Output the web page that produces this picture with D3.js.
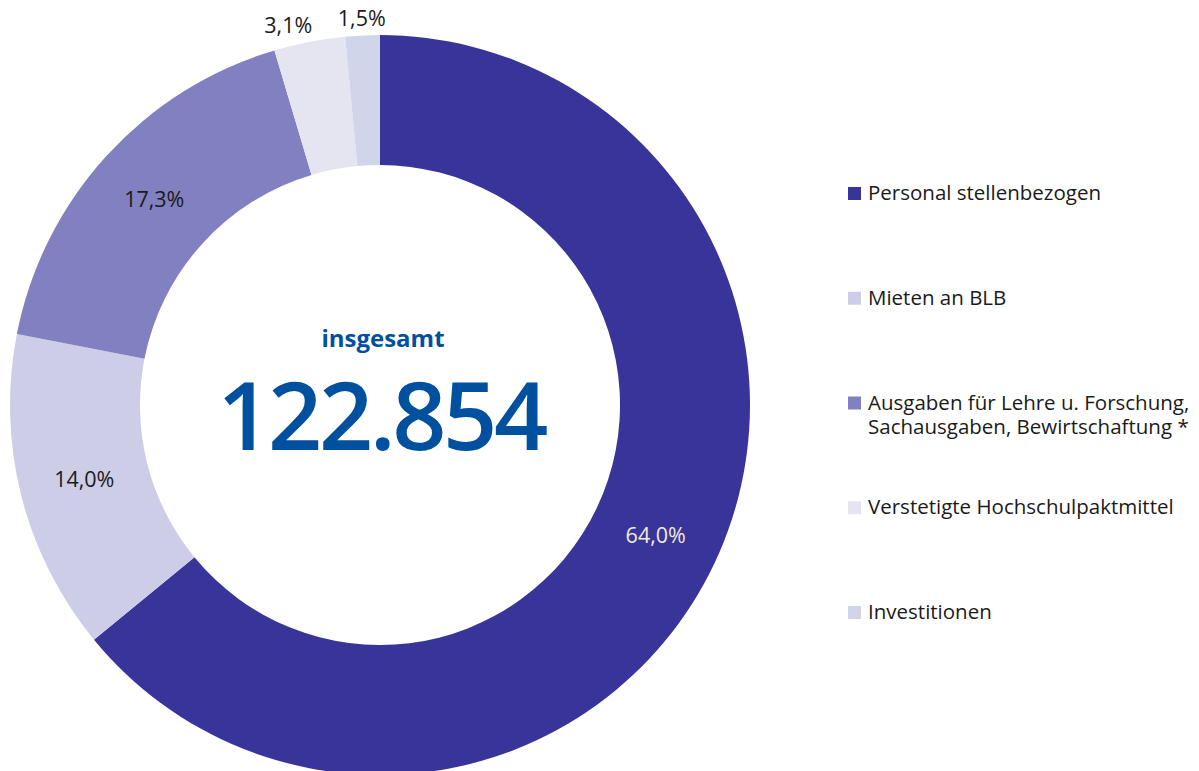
<!DOCTYPE html>
<html>
<head>
<meta charset="utf-8">
<script src="https://cdn.jsdelivr.net/npm/d3@7"></script>
<style>
  body { margin: 0; background: #fff; }
  svg { display: block; font-family: "Open Sans", "Noto Sans", sans-serif; }
</style>
</head>
<body>
<div id="chart"></div>
<script>
// Anteile in Prozent, im Uhrzeigersinn ab 12 Uhr
var categories = [
  ["Personal stellenbezogen"],
  ["Mieten an BLB"],
  ["Ausgaben für Lehre u. Forschung,", "Sachausgaben, Bewirtschaftung *"],
  ["Verstetigte Hochschulpaktmittel"],
  ["Investitionen"]
];
var values = [64.0, 14.0, 17.3, 3.1, 1.5];
var valueLabels = ["64,0%", "14,0%", "17,3%", "3,1%", "1,5%"];
var colors = ["#39349a", "#cdcde8", "#8180c0", "#e5e5f2", "#d1d5e9"];
var totalLabel = "insgesamt";
var totalValue = "122.854";

var width = 1199, height = 771;
var cx = 380, cy = 405, rOuter = 370, rInner = 240;

var svg = d3.select("#chart").append("svg")
  .attr("width", width)
  .attr("height", height);

var data = values.map(function(v, i) {
  return { value: v, label: valueLabels[i], color: colors[i], name: categories[i] };
});

var pie = d3.pie()
  .sort(null)
  .value(function(d) { return d.value; });

var arc = d3.arc().innerRadius(rInner).outerRadius(rOuter);
var labelArc = d3.arc().innerRadius(305).outerRadius(305);
var outerArc = d3.arc().innerRadius(387).outerRadius(387);

var arcs = pie(data);
var g = svg.append("g").attr("transform", "translate(" + cx + "," + cy + ")");

g.selectAll("path.slice").data(arcs).enter()
  .append("path")
  .classed("slice", true)
  .attr("d", arc)
  .attr("fill", function(d) { return d.data.color; });

// Beschriftung: grosse Segmente im Ring, kleine ausserhalb
g.selectAll("text.pct").data(arcs).enter()
  .append("text")
  .classed("pct", true)
  .attr("transform", function(d) {
    var small = d.data.value < 5;
    var p = small ? outerArc.centroid(d) : labelArc.centroid(d);
    if (small && d.index === 3) { p[0] += 6; }
    return "translate(" + p[0] + "," + p[1] + ")";
  })
  .attr("text-anchor", function(d) { return d.index === 3 ? "end" : "middle"; })
  .attr("dy", "0.35em")
  .attr("font-size", 21.5)
  .attr("fill", function(d) { return d.index === 0 ? "#f3ead8" : "#1a1a1a"; })
  .text(function(d) { return d.data.label; });

// Mitte
g.append("text")
  .attr("x", 3)
  .attr("y", -58)
  .attr("text-anchor", "middle")
  .attr("font-size", 24)
  .attr("font-weight", "bold")
  .attr("fill", "#0050a0")
  .text(totalLabel);

g.append("text")
  .attr("x", 1)
  .attr("y", 45)
  .attr("text-anchor", "middle")
  .attr("font-size", 95)
  .attr("font-weight", 600)
  .attr("letter-spacing", -3.5)
  .attr("fill", "#0050a0")
  .text(totalValue);

// Legende
var ly = d3.scalePoint()
  .domain(d3.range(categories.length))
  .range([193, 612]);

var legend = svg.append("g").classed("legend", true);
var item = legend.selectAll("g.item").data(data).enter()
  .append("g")
  .classed("item", true)
  .attr("transform", function(d, i) { return "translate(848," + ly(i) + ")"; });

item.append("rect")
  .attr("x", 0)
  .attr("y", -6)
  .attr("width", 13)
  .attr("height", 13)
  .attr("fill", function(d) { return d.color; });

item.append("text")
  .attr("x", 20)
  .attr("y", 0)
  .attr("font-size", 20.5)
  .attr("fill", "#1a1a1a")
  .selectAll("tspan")
  .data(function(d) { return d.name; })
  .enter()
  .append("tspan")
  .attr("x", 20)
  .attr("dy", function(d, i) { return i === 0 ? "0.35em" : "1.2em"; })
  .text(function(d) { return d; });
</script>
</body>
</html>
